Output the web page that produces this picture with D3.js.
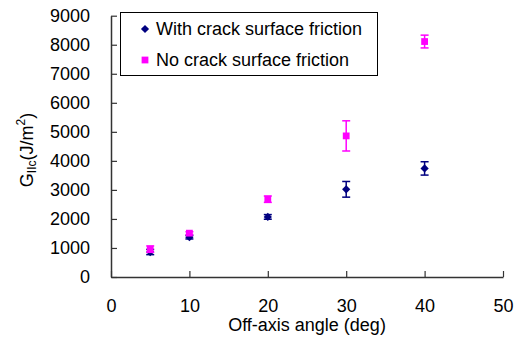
<!DOCTYPE html>
<html>
<head>
<meta charset="utf-8">
<script src="https://cdn.jsdelivr.net/npm/d3@7"></script>
<style>
  body { margin: 0; background: #fff; }
  svg { display: block; font-family: "Liberation Sans", Arial, sans-serif; }
</style>
</head>
<body>
<svg width="523" height="338"></svg>
<script>
// angles (deg) and GIIc values (J/m^2)
const angles = [5, 10, 20, 30, 40];
const withFriction = [860, 1370, 2070, 3020, 3740];
const withFrictionErr = [90, 60, 80, 270, 230];
const noFriction = [960, 1510, 2680, 4860, 8110];
const noFrictionErr = [110, 50, 110, 520, 220];
const xTicks = [0, 10, 20, 30, 40, 50];
const yTicks = [0, 1000, 2000, 3000, 4000, 5000, 6000, 7000, 8000, 9000];

const series = [
  {name: "With crack surface friction", vals: withFriction, err: withFrictionErr, color: "#000080", shape: d3.symbolSquare, size: 34, rot: 45},
  {name: "No crack surface friction", vals: noFriction, err: noFrictionErr, color: "#ff00ff", shape: d3.symbolSquare, size: 46, rot: 0}
];

const svg = d3.select("svg");
const plot = {left: 111, right: 503, top: 15.7, bottom: 277};
const fontSize = "18px";

const x = d3.scaleLinear().domain([0, 50]).range([plot.left, plot.right]);
const y = d3.scaleLinear().domain([0, 9000]).range([plot.bottom, plot.top]);

// axes: ticks point inward
const xAxis = svg.append("g")
  .attr("transform", `translate(0,${plot.bottom})`)
  .call(d3.axisBottom(x).tickValues(xTicks).tickFormat(d3.format("d"))
    .tickSize(-6).tickPadding(22).tickSizeOuter(0));
const yAxis = svg.append("g")
  .attr("transform", `translate(${plot.left},0)`)
  .call(d3.axisLeft(y).tickValues(yTicks).tickFormat(d3.format("d"))
    .tickSize(-6).tickPadding(21).tickSizeOuter(0));

[xAxis, yAxis].forEach(g => {
  g.select(".domain").attr("stroke", "#333").attr("stroke-width", 1.5);
  g.selectAll(".tick line").attr("stroke", "#333").attr("stroke-width", 1.2);
  g.selectAll(".tick text")
    .attr("fill", "#000")
    .style("font-size", fontSize)
    .style("font-family", "'Liberation Sans', Arial, sans-serif");
});

// axis titles
svg.append("text")
  .attr("x", x(25))
  .attr("y", 331)
  .attr("text-anchor", "middle")
  .style("font-size", fontSize)
  .text("Off-axis angle (deg)");

const yl = svg.append("text")
  .attr("transform", `translate(33,150) rotate(-90)`)
  .attr("text-anchor", "middle")
  .style("font-size", fontSize);
yl.append("tspan").text("G");
yl.append("tspan").attr("dy", 3).style("font-size", "12px").text("IIc");
yl.append("tspan").attr("dy", -3).text("(J/m");
yl.append("tspan").attr("dy", -8).style("font-size", "12px").text("2");
yl.append("tspan").attr("dy", 8).text(")");

// error bars and markers
series.forEach(s => {
  const g = svg.append("g");
  const pts = angles.map((a, i) => ({a, v: s.vals[i], e: s.err[i]}));
  g.selectAll("line.bar").data(pts).enter().append("line")
    .attr("x1", d => x(d.a)).attr("x2", d => x(d.a))
    .attr("y1", d => y(d.v - d.e)).attr("y2", d => y(d.v + d.e))
    .attr("stroke", s.color).attr("stroke-width", 1.5);
  [-1, 1].forEach(sign => {
    g.selectAll(null).data(pts).enter().append("line")
      .attr("x1", d => x(d.a) - 4).attr("x2", d => x(d.a) + 4)
      .attr("y1", d => y(d.v + sign * d.e)).attr("y2", d => y(d.v + sign * d.e))
      .attr("stroke", s.color).attr("stroke-width", 1.5);
  });
  g.selectAll("path").data(pts).enter().append("path")
    .attr("d", d3.symbol().type(s.shape).size(s.size))
    .attr("transform", d => `translate(${x(d.a)},${y(d.v)}) rotate(${s.rot})`)
    .attr("fill", s.color);
});

// legend
const lg = svg.append("g");
lg.append("rect")
  .attr("x", 120.5).attr("y", 12.5)
  .attr("width", 257).attr("height", 63)
  .attr("fill", "#fff").attr("stroke", "#000").attr("stroke-width", 1);
series.forEach((s, i) => {
  const cy = 29 + i * 31;
  lg.append("path")
    .attr("d", d3.symbol().type(s.shape).size(s.size))
    .attr("transform", `translate(145,${cy}) rotate(${s.rot})`)
    .attr("fill", s.color);
  lg.append("text")
    .attr("x", 156)
    .attr("y", cy)
    .attr("dy", "0.35em")
    .style("font-size", fontSize)
    .text(s.name);
});
</script>
</body>
</html>
